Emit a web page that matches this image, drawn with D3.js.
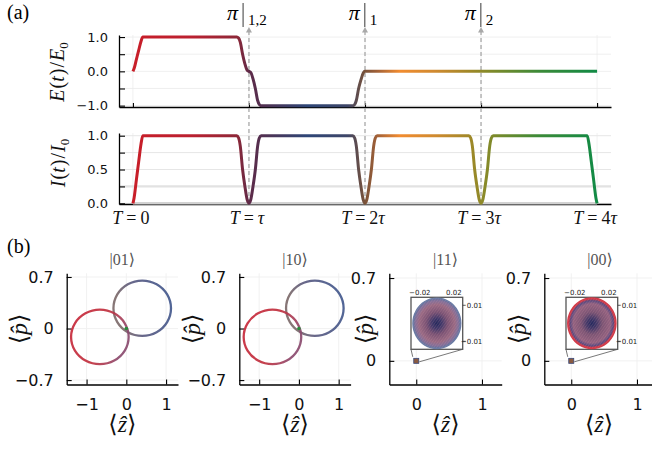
<!DOCTYPE html>
<html><head><meta charset="utf-8">
<script src="https://cdn.jsdelivr.net/npm/d3@7"></script>
<style>body{margin:0;background:#fff} svg{display:block}</style>
</head><body>
<svg id="c" width="652" height="449"></svg>
<script>
// ================= DATA =================
// panel (a): time axis
const tTicks = [0, 1, 2, 3, 4];
const tTickLabels = ["0", "τ", "2τ", "3τ", "4τ"];
const eTicks = [-1, -0.5, 0, 0.5, 1];
const eTickLabels = ["−1.0", "", "0.0", "", "1.0"];
const iTicks = [0, 0.25, 0.5, 0.75, 1];
const iTickLabels = ["0.0", "", "0.5", "", "1.0"];

// intensity I(t)/I0
const tI = [0, 0.01, 0.03, 0.05, 0.07, 0.085,
  0.895, 0.91, 0.925, 0.945, 0.965, 0.985, 1.0, 1.015, 1.035, 1.055, 1.075, 1.09, 1.105,
  1.895, 1.91, 1.925, 1.945, 1.965, 1.985, 2.0, 2.015, 2.035, 2.055, 2.075, 2.09, 2.105,
  2.895, 2.91, 2.925, 2.945, 2.965, 2.985, 3.0, 3.015, 3.035, 3.055, 3.075, 3.09, 3.105,
  3.915, 3.93, 3.95, 3.97, 3.99, 4.0];
const vI = [0, 0.08, 0.35, 0.62, 0.88, 1,
  1, 0.97, 0.85, 0.5, 0.25, 0.05, 0, 0.05, 0.25, 0.5, 0.85, 0.97, 1,
  1, 0.97, 0.85, 0.5, 0.25, 0.05, 0, 0.05, 0.25, 0.5, 0.85, 0.97, 1,
  1, 0.97, 0.85, 0.5, 0.25, 0.05, 0, 0.05, 0.25, 0.5, 0.85, 0.97, 1,
  1, 0.88, 0.62, 0.35, 0.08, 0];

// field E(t)/E0
const tE = [0, 0.01, 0.03, 0.05, 0.07, 0.085,
  0.895, 0.91, 0.925, 0.945, 0.965, 0.985, 1.0, 1.015, 1.035, 1.055, 1.075, 1.09, 1.105,
  1.895, 1.91, 1.925, 1.945, 1.965, 1.985, 2.0, 3.0, 4.0];
const vE = [0, 0.08, 0.35, 0.62, 0.88, 1,
  1, 0.97, 0.85, 0.5, 0.22, 0.03, 0, -0.03, -0.22, -0.5, -0.85, -0.97, -1,
  -1, -0.97, -0.85, -0.5, -0.25, -0.05, 0, 0, 0];

// pi-pulse annotations
const piTimes = [1, 2, 3];
const piSubs = ["1,2", "1", "2"];

// time colour map
const colorTimes = [0, 0.5, 0.9, 1.0, 1.2, 1.5, 1.85, 2.0, 2.1, 2.3, 2.6, 2.9, 3.1, 3.5, 4.0];
const colorValues = ["#c81e28", "#bb2030", "#8e2838", "#5e2a48", "#4a3558", "#2e4677", "#3e4668",
  "#7a5238", "#a06038", "#f28c30", "#d08a30", "#a08828", "#7e8a2a", "#3c8a38", "#118a45"];

// panel (b)
const panelTitles = ["|01⟩", "|10⟩", "|11⟩", "|00⟩"];
const zTicksWide = [-1, 0, 1], zTickLabelsWide = ["−1", "0", "1"];
const pTicksWide = [-0.7, 0, 0.7], pTickLabelsWide = ["−0.7", "0", "0.7"];
const zTicksNarrow = [0, 1], zTickLabelsNarrow = ["0", "1"];
const pTicksNarrow = [0, 0.7], pTickLabelsNarrow = ["0", "0.7"];

// trajectory loops
const zRedLoop = [0.058, -0.039, -0.304, -0.666, -1.028, -1.293, -1.39, -1.293, -1.028, -0.666, -0.304, -0.039];
const pRedLoop = [-0.114, 0.071, 0.206, 0.256, 0.206, 0.071, -0.114, -0.299, -0.434, -0.484, -0.434, -0.299];
const zBlueLoop = [1.124, 1.027, 0.762, 0.40, 0.038, -0.227, -0.324, -0.227, 0.038, 0.40, 0.762, 1.027];
const pBlueLoop = [0.275, 0.463, 0.601, 0.651, 0.601, 0.463, 0.275, 0.087, -0.051, -0.101, -0.051, 0.087];

// inset (zoom near origin) ring
const zInsetRing = [0.028, 0.0242, 0.014, 0, -0.014, -0.0242, -0.028, -0.0242, -0.014, 0, 0.014, 0.0242];
const pInsetRing = [0, 0.00695, 0.01204, 0.0139, 0.01204, 0.00695, 0, -0.00695, -0.01204, -0.0139, -0.01204, -0.00695];
const insetZTicks = [-0.02, 0.02], insetZTickLabels = ["−0.02", "0.02"];
const insetPTicks = [-0.01, 0.01], insetPTickLabels = ["−0.01", "0.01"];

// ================= DRAW =================
const svg = d3.select("#c");
const SERIF = "Liberation Serif, DejaVu Serif, serif";
const SANS = "DejaVu Sans, sans-serif";
const defs = svg.append("defs");

// ---------- panel (a) ----------
const xA = d3.scaleLinear().domain([-0.12, 4.12]).range([119, 611]);
const yE = d3.scaleLinear().domain([-1.04, 1.06]).range([107, 35]);
const yI = d3.scaleLinear().domain([-0.01, 1.04]).range([204, 133]);

const grad = defs.append("linearGradient").attr("id", "tgrad")
  .attr("gradientUnits", "userSpaceOnUse")
  .attr("x1", xA(0)).attr("x2", xA(4)).attr("y1", 0).attr("y2", 0);
colorTimes.forEach((t, i) => grad.append("stop").attr("offset", t / 4).attr("stop-color", colorValues[i]));

const gA = svg.append("g");
// grids
tTicks.forEach(t => {
  gA.append("line").attr("x1", xA(t)).attr("x2", xA(t)).attr("y1", yE.range()[1]).attr("y2", yE.range()[0])
    .attr("stroke", "#ececec").attr("stroke-width", 0.8);
  gA.append("line").attr("x1", xA(t)).attr("x2", xA(t)).attr("y1", yI.range()[1]).attr("y2", yI.range()[0])
    .attr("stroke", "#ececec").attr("stroke-width", 0.8);
});
eTicks.forEach(v => gA.append("line").attr("x1", 119).attr("x2", 611).attr("y1", yE(v)).attr("y2", yE(v))
  .attr("stroke", "#ebebeb").attr("stroke-width", 0.8));
iTicks.forEach(v => gA.append("line").attr("x1", 119).attr("x2", 611).attr("y1", yI(v)).attr("y2", yI(v))
  .attr("stroke", v === 0.25 ? "#e2e2e2" : "#e6e6e6").attr("stroke-width", v === 0.25 ? 2.2 : 1));

function styleAxis(g, size) {
  g.select(".domain").attr("stroke", "#000").attr("stroke-width", 1.3);
  g.selectAll(".tick line").attr("stroke", "#000").attr("stroke-width", 1.1);
  g.selectAll("text").attr("font-family", SANS).attr("font-size", size).attr("fill", "#111");
}
// axes E
gA.append("g").attr("transform", "translate(119,0)")
  .call(d3.axisLeft(yE).tickValues(eTicks).tickSizeInner(-6).tickSizeOuter(0).tickPadding(11)
    .tickFormat((d, i) => eTickLabels[i]))
  .call(g => styleAxis(g, 13));
gA.append("g").attr("transform", "translate(0,107)")
  .call(d3.axisBottom(xA).tickValues(tTicks).tickSizeInner(-4).tickSizeOuter(0).tickFormat(""))
  .call(g => styleAxis(g, 13));
// axes I
gA.append("g").attr("transform", "translate(119,0)")
  .call(d3.axisLeft(yI).tickValues(iTicks).tickSizeInner(-6).tickSizeOuter(0).tickPadding(11)
    .tickFormat((d, i) => iTickLabels[i]))
  .call(g => styleAxis(g, 13));
gA.append("g").attr("transform", "translate(0,204)")
  .call(d3.axisBottom(xA).tickValues([]).tickSizeOuter(0))
  .call(g => styleAxis(g, 13));
// grey baseline band over zero
gA.append("line").attr("x1", xA(0)).attr("x2", xA(4)).attr("y1", yI(0)).attr("y2", yI(0))
  .attr("stroke", "#d2d2d2").attr("stroke-width", 2.6);

// dashed arrows
piTimes.forEach(t => {
  const x = xA(t);
  gA.append("line").attr("x1", x).attr("x2", x).attr("y1", 31).attr("y2", yI(0))
    .attr("stroke", "#a8a8a8").attr("stroke-width", 1.3).attr("stroke-dasharray", "4,3");
  gA.append("path").attr("d", `M${x},27 L${x - 3},32.5 L${x + 3},32.5 Z`).attr("fill", "#a8a8a8");
});

// curves
const lineE = d3.line().x(d => xA(d[0])).y(d => yE(d[1])).curve(d3.curveMonotoneX);
const lineI = d3.line().x(d => xA(d[0])).y(d => yI(d[1])).curve(d3.curveMonotoneX);
gA.append("path").attr("d", lineE(tE.map((t, i) => [t, vE[i]])))
  .attr("fill", "none").attr("stroke", "url(#tgrad)").attr("stroke-width", 3).attr("stroke-linejoin", "round");
gA.append("path").attr("d", lineI(tI.map((t, i) => [t, vI[i]])))
  .attr("fill", "none").attr("stroke", "url(#tgrad)").attr("stroke-width", 3).attr("stroke-linejoin", "round");

// annotations pi|..
piTimes.forEach((t, k) => {
  const x = xA(t);
  const g = gA.append("g");
  const tp = g.append("text").attr("font-family", SERIF).attr("font-style", "italic").attr("font-size", 22)
    .attr("y", 20).text("π");
  const ts = g.append("text").attr("font-family", SERIF).attr("font-size", 15).attr("y", 25).text(piSubs[k]);
  const w1 = tp.node().getComputedTextLength(), w2 = ts.node().getComputedTextLength();
  const gap = 5, total = w1 + gap * 2 + w2;
  const x0 = x - 2 - total / 2;
  tp.attr("x", x0);
  const bx = x0 + w1 + gap;
  g.append("line").attr("x1", bx).attr("x2", bx).attr("y1", 3).attr("y2", 27)
    .attr("stroke", "#666").attr("stroke-width", 1.3);
  ts.attr("x", bx + gap);
});

// T labels
tTicks.forEach((t, i) => {
  const tx = gA.append("text").attr("x", xA(t) - 2).attr("y", 224).attr("text-anchor", "middle")
    .attr("font-family", SERIF).attr("font-size", 18).attr("fill", "#111");
  tx.append("tspan").attr("font-style", "italic").text("T");
  tx.append("tspan").attr("dx", 4).text("=");
  const lab = tTickLabels[i];
  if (lab.endsWith("τ")) {
    const num = lab.slice(0, -1);
    if (num) tx.append("tspan").attr("dx", 4).text(num);
    tx.append("tspan").attr("dx", num ? 0 : 4).attr("font-style", "italic").text("τ");
  } else tx.append("tspan").attr("dx", 4).text(lab);
});

// y labels
function yLabel(x, y, letter) {
  const tx = gA.append("text").attr("transform", `translate(${x},${y}) rotate(-90)`)
    .attr("text-anchor", "middle").attr("font-family", SERIF).attr("font-size", 20).attr("fill", "#111");
  tx.append("tspan").attr("font-style", "italic").text(letter);
  tx.append("tspan").attr("dx", 1).text("(");
  tx.append("tspan").attr("font-style", "italic").text("t");
  tx.append("tspan").attr("dx", 1).text(")");
  tx.append("tspan").attr("dx", 1).text("/");
  tx.append("tspan").attr("dx", 1).attr("font-style", "italic").text(letter);
  tx.append("tspan").attr("font-size", 13).attr("dy", 4).text("0");
}
yLabel(64, 72, "E");
yLabel(65, 163, "I");

svg.append("text").attr("x", 7).attr("y", 19).attr("font-family", SERIF).attr("font-size", 20).text("(a)");
svg.append("text").attr("x", 7).attr("y", 253).attr("font-family", SERIF).attr("font-size", 20).text("(b)");

// ---------- panel (b) ----------
const TOP = 273.3, BOT = 384.5;
const subCfg = [
  { left: 66.7, right: 178, xdom: [-1.5, 1.3], ydom: [-0.76, 0.75], wide: true, ylabOff: 47 },
  { left: 239.3, right: 350.6, xdom: [-1.5, 1.3], ydom: [-0.76, 0.75], wide: true, ylabOff: 47 },
  { left: 389.3, right: 501.7, xdom: [-0.41, 1.3], ydom: [-0.2, 0.74], wide: false, ylabOff: 24, ring: "blue" },
  { left: 544.3, right: 656.7, xdom: [-0.41, 1.3], ydom: [-0.2, 0.74], wide: false, ylabOff: 26, ring: "red" }
];

// gradients for loops
function lg(id, stops, x2, y2) {
  const g = defs.append("linearGradient").attr("id", id).attr("x1", 0).attr("x2", x2).attr("y1", 0).attr("y2", y2);
  stops.forEach(s => g.append("stop").attr("offset", s[0]).attr("stop-color", s[1]));
}
lg("gRed", [[0, "#c8283a"], [0.6, "#c0303e"], [0.85, "#a8405a"], [1, "#8a4a6e"]], 1, 0.3);
lg("gBlue", [[0, "#7c6a6a"], [0.3, "#5a5a80"], [1, "#3e5890"]], 1, -0.2);
function rg(id, stops) {
  const g = defs.append("radialGradient").attr("id", id).attr("cx", "0.5").attr("cy", "0.5").attr("r", "0.5");
  stops.forEach(s => g.append("stop").attr("offset", s[0]).attr("stop-color", s[1]));
}
rg("rBlue", [[0, "#23285c"], [0.2, "#40386a"], [0.45, "#7a5274"], [0.75, "#9a6a84"], [0.9, "#84709a"], [1, "#5e6e9c"]]);
rg("rRed", [[0, "#22285e"], [0.2, "#423868"], [0.45, "#7c5474"], [0.78, "#946280"], [0.9, "#5a4a80"], [1, "#c83a48"]]);
// hatch texture for inset discs
const pat = defs.append("pattern").attr("id", "hatch").attr("width", 2.2).attr("height", 2.2)
  .attr("patternUnits", "userSpaceOnUse").attr("patternTransform", "rotate(35)");
pat.append("line").attr("x1", 0).attr("y1", 0).attr("x2", 0).attr("y2", 2.2)
  .attr("stroke", "#d8a0a8").attr("stroke-width", 0.6).attr("opacity", 0.45);

subCfg.forEach((c, i) => {
  const xs = d3.scaleLinear().domain(c.xdom).range([c.left, c.right]);
  const ys = d3.scaleLinear().domain(c.ydom).range([BOT, TOP]);
  const zt = c.wide ? zTicksWide : zTicksNarrow, ztl = c.wide ? zTickLabelsWide : zTickLabelsNarrow;
  const pt = c.wide ? pTicksWide : pTicksNarrow, ptl = c.wide ? pTickLabelsWide : pTickLabelsNarrow;
  const g = svg.append("g");
  zt.forEach(v => g.append("line").attr("x1", xs(v)).attr("x2", xs(v)).attr("y1", TOP).attr("y2", BOT)
    .attr("stroke", "#efefef").attr("stroke-width", 0.9));
  pt.forEach(v => g.append("line").attr("x1", c.left).attr("x2", c.right).attr("y1", ys(v)).attr("y2", ys(v))
    .attr("stroke", "#efefef").attr("stroke-width", 0.9));
  g.append("g").attr("transform", `translate(0,${BOT})`)
    .call(d3.axisBottom(xs).tickValues(zt).tickSizeInner(-5).tickSizeOuter(0).tickPadding(14)
      .tickFormat((d, k) => ztl[k]))
    .call(a => styleAxis(a, 16));
  g.append("g").attr("transform", `translate(${c.left},0)`)
    .call(d3.axisLeft(ys).tickValues(pt).tickSizeInner(-5).tickSizeOuter(0).tickPadding(13)
      .tickFormat((d, k) => ptl[k]))
    .call(a => styleAxis(a, 16));

  // title
  const tcx = i === 3 ? 600 : (c.left + c.right) / 2;
  g.append("text").attr("x", tcx).attr("y", 265)
    .attr("text-anchor", "middle").attr("font-family", SERIF).attr("font-size", 16).attr("fill", "#555")
    .text(panelTitles[i]);
  // x label
  const cx = i === 3 ? 599 : (c.left + c.right) / 2;
  const xl = g.append("text").attr("x", cx).attr("y", 432).attr("text-anchor", "middle")
    .attr("font-family", SERIF).attr("font-size", 24).attr("fill", "#111");
  xl.append("tspan").text("⟨");
  xl.append("tspan").attr("font-style", "italic").text("ẑ");
  xl.append("tspan").text("⟩");
  // y label
  const yl = g.append("text").attr("transform", `translate(${c.left - c.ylabOff},${(TOP + BOT) / 2}) rotate(-90)`)
    .attr("text-anchor", "middle").attr("dy", "0.3em")
    .attr("font-family", SERIF).attr("font-size", 24).attr("fill", "#111");
  yl.append("tspan").text("⟨");
  yl.append("tspan").attr("font-style", "italic").text("p\u0302");
  yl.append("tspan").text("⟩");

  const loop = d3.line().x(d => xs(d[0])).y(d => ys(d[1])).curve(d3.curveCatmullRomClosed);
  if (c.wide) {
    g.append("path").attr("d", loop(zBlueLoop.map((z, k) => [z, pBlueLoop[k]])))
      .attr("fill", "none").attr("stroke", "url(#gBlue)").attr("stroke-width", 2.3).attr("opacity", 0.92);
    g.append("path").attr("d", loop(zRedLoop.map((z, k) => [z, pRedLoop[k]])))
      .attr("fill", "none").attr("stroke", "url(#gRed)").attr("stroke-width", 2.3).attr("opacity", 0.92);
    g.append("circle").attr("cx", xs(0)).attr("cy", ys(0)).attr("r", 1.8).attr("fill", "#2a8a3a");
  } else {
    // inset box
    const bx0 = c.left + 21.7, bx1 = c.left + 73.4, by0 = 297.3, by1 = 349.3;
    const ix = d3.scaleLinear().domain([-0.0304, 0.0304]).range([bx0, bx1]);
    const iy = d3.scaleLinear().domain([-0.01444, 0.01444]).range([by1, by0]);
    const mx = xs(0), my = ys(0);
    g.append("line").attr("x1", bx0).attr("y1", by1).attr("x2", mx - 3.5).attr("y2", my - 4)
      .attr("stroke", "#555").attr("stroke-width", 0.8);
    g.append("line").attr("x1", bx1).attr("y1", by1).attr("x2", mx + 3).attr("y2", my + 1)
      .attr("stroke", "#555").attr("stroke-width", 0.8);
    g.append("rect").attr("x", mx - 2.5).attr("y", my - 2.5).attr("width", 5).attr("height", 5)
      .attr("fill", "#8a5a40").attr("stroke", "#3a4a7a").attr("stroke-width", 0.8);
    g.append("rect").attr("x", bx0).attr("y", by0).attr("width", bx1 - bx0).attr("height", by1 - by0)
      .attr("fill", "#fff").attr("stroke", "#555").attr("stroke-width", 1.3);
    const ringLine = d3.line().x(d => ix(d[0])).y(d => iy(d[1])).curve(d3.curveCatmullRomClosed);
    const ringD = ringLine(zInsetRing.map((z, k) => [z, pInsetRing[k]]));
    g.append("path").attr("d", ringD)
      .attr("fill", c.ring === "blue" ? "url(#rBlue)" : "url(#rRed)")
      .attr("stroke", c.ring === "blue" ? "#6a7aa4" : "#d23a48").attr("stroke-width", c.ring === "blue" ? 1.6 : 2);
    g.append("path").attr("d", ringD).attr("fill", "url(#hatch)").attr("stroke", "none");
    insetZTicks.forEach((v, k) => {
      g.append("text").attr("x", ix(v)).attr("y", 295).attr("text-anchor", "middle")
        .attr("font-family", SANS).attr("font-size", 7).attr("fill", "#222").text(insetZTickLabels[k]);
    });
    insetPTicks.forEach((v, k) => {
      g.append("line").attr("x1", bx1).attr("x2", bx1 + 3).attr("y1", iy(v)).attr("y2", iy(v))
        .attr("stroke", "#333").attr("stroke-width", 0.8);
      g.append("text").attr("x", bx1 + 19.6).attr("y", iy(v) + 2.5).attr("text-anchor", "end")
        .attr("font-family", SANS).attr("font-size", 7).attr("fill", "#222").text(insetPTickLabels[k]);
    });
  }
});
</script>
</body></html>
